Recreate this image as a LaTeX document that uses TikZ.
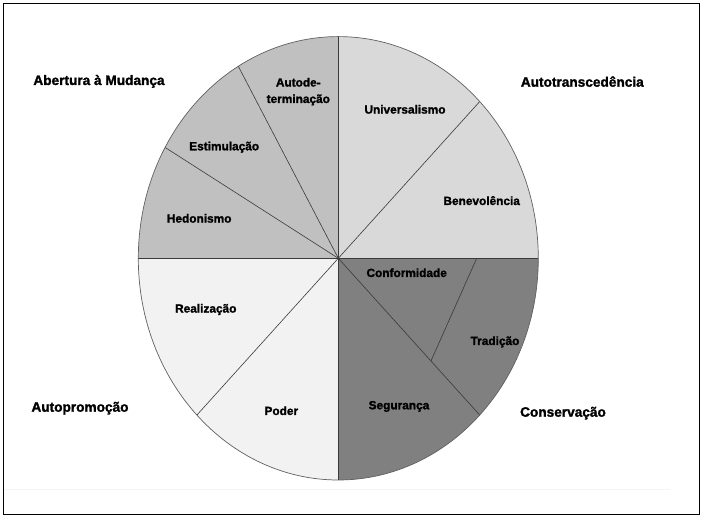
\documentclass[tikz,border=0pt]{standalone}
\usepackage{fontspec}
\setmainfont{Liberation Sans}[BoldFeatures={FakeBold=1.6}]
\usetikzlibrary{calc}
\definecolor{openC}{HTML}{C0C0C0}
\definecolor{transC}{HTML}{D9D9D9}
\definecolor{consC}{HTML}{808080}
\definecolor{promC}{HTML}{F2F2F2}
\definecolor{lineC}{HTML}{3A3A3A}
\definecolor{rimC}{HTML}{606060}
\begin{document}
\begin{tikzpicture}[x=1bp,y=1bp,
  seg/.style={draw=lineC, line width=0.6bp},
  rim/.style={draw=rimC, line width=0.7bp},
  lab/.style={font=\fontsize{11.9}{16.5}\selectfont\bfseries, text=black, align=center, inner sep=0, anchor=base},
  grp/.style={font=\fontsize{13.7}{16}\selectfont\bfseries, text=black, inner sep=0, anchor=base}]
\useasboundingbox (0,0) rectangle (706,520);
\def\rx{200}\def\ry{221.7}
\coordinate (c) at (338.3,261.7);
% sectors
\newcommand\mysector[3]{\fill[#3] (c) -- +(#1:\rx bp and \ry bp) arc[start angle=#1, end angle=#2, x radius=\rx bp, y radius=\ry bp] -- cycle;}
\mysector{90}{180}{openC}
\mysector{0}{90}{transC}
\mysector{-90}{0}{consC}
\mysector{180}{270}{promC}
% spokes
\foreach \a/\n in {0/e0,45/e45,90/e90,120/e120,150/e150,180/e180,225/e225,270/e270,315/e315}
  \coordinate (\n) at ($(c)+(\a:\rx bp and \ry bp)$);
\foreach \n in {e0,e45,e90,e120,e150,e180,e225,e270,e315}
  \draw[seg] (c) -- (\n);
\coordinate (cfA) at ($(c)+(138.4,0)$);
\coordinate (cfB) at ($(c)!0.655!(e315)$);
\draw[seg] (cfA) -- (cfB);
\draw[rim] (c) ellipse [x radius=\rx bp, y radius=\ry bp];
% frame
\draw[line width=1bp] (3.3,5.7) rectangle (699,516.7);
\draw[draw=black!4, line width=0.6bp] (3.8,31) -- (670,31);
% sector labels
\node[lab, anchor=center] (aut) at (298.3,428.3) {Autode-\\termina\c{c}\~ao};
\node[lab] (uni) at (405,406.4) {Universalismo};
\node[lab] (est) at (224.2,369.7) {Estimula\c{c}\~ao};
\node[lab] (ben) at (481.7,315) {Benevol\^encia};
\node[lab] (hed) at (199.2,297.4) {Hedonismo};
\node[lab] (cnf) at (406.7,243) {Conformidade};
\node[lab] (rea) at (205.8,207.4) {Realiza\c{c}\~ao};
\node[lab] (tra) at (495,175) {Tradi\c{c}\~ao};
\node[lab] (seg) at (399,110.7) {Seguran\c{c}a};
\node[lab] (pod) at (281.3,105) {Poder};
% group labels
\node[grp] (abm) at (99,435) {Abertura \`a Mudan\c{c}a};
\node[grp] (atr) at (582.3,433.3) {Autotransced\^encia};
\node[grp] (cns) at (563,103.3) {Conserva\c{c}\~ao};
\node[grp] (apr) at (80,108.3) {Autopromo\c{c}\~ao};
\end{tikzpicture}
\end{document}
